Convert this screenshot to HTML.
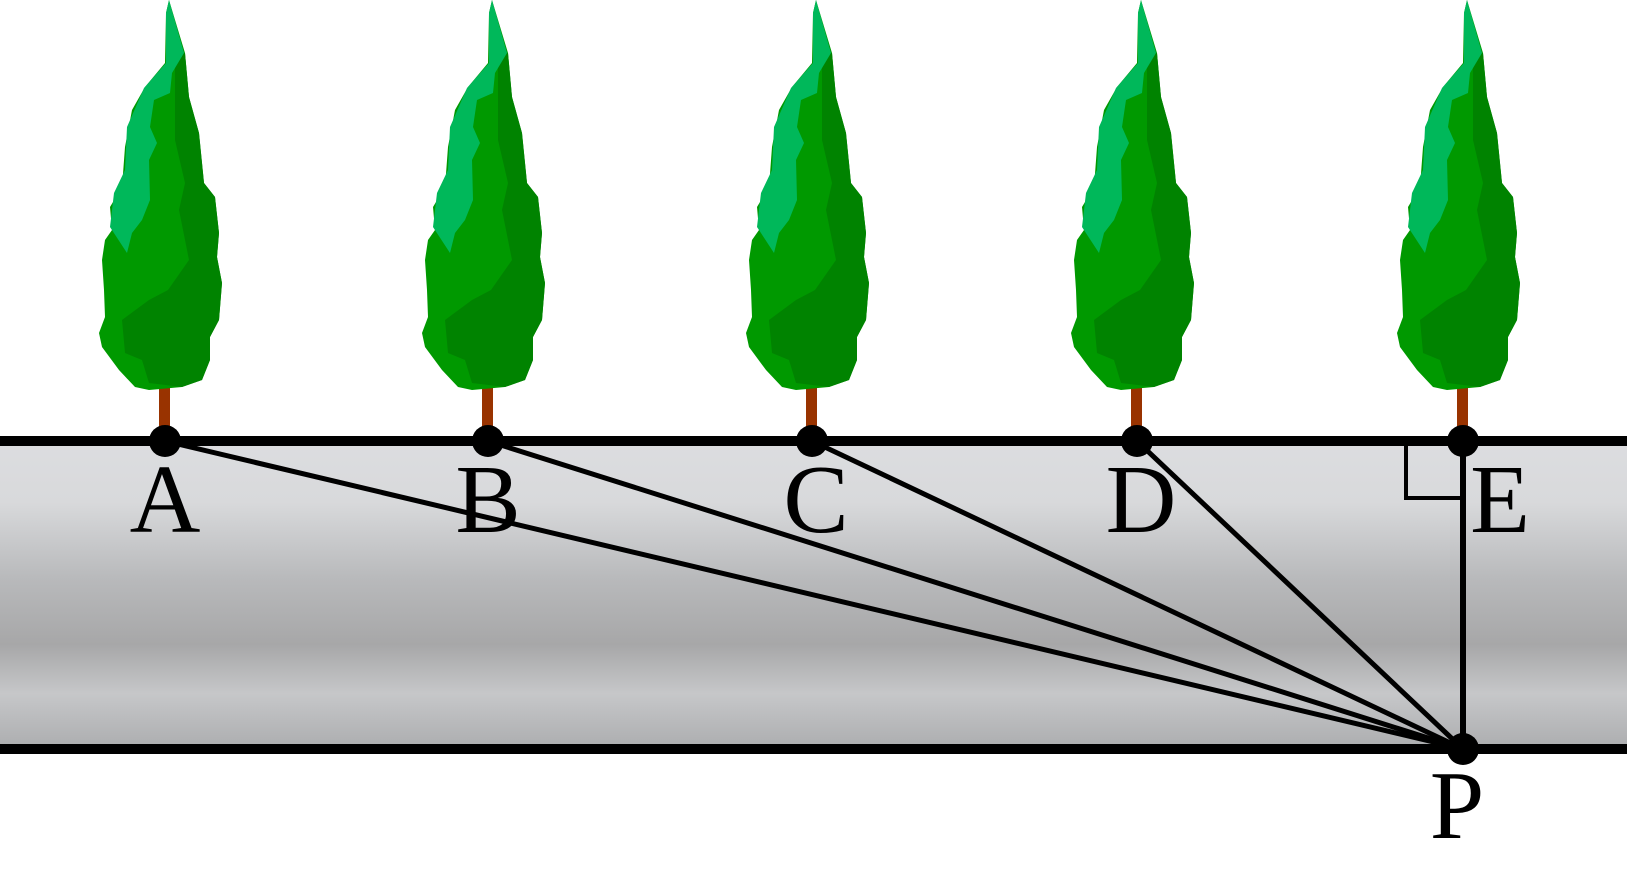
<!DOCTYPE html>
<html><head><style>html,body{margin:0;padding:0;background:#fff;}svg{display:block}</style></head>
<body>
<svg width="1627" height="869" viewBox="0 0 1627 869" xmlns="http://www.w3.org/2000/svg">
<defs>
<linearGradient id="road" x1="0" y1="441" x2="0" y2="749" gradientUnits="userSpaceOnUse">
<stop offset="0" stop-color="#dcdde0"/>
<stop offset="0.2" stop-color="#d8d9db"/>
<stop offset="0.45" stop-color="#b8b9bb"/>
<stop offset="0.66" stop-color="#a7a7a8"/>
<stop offset="0.82" stop-color="#c6c7c9"/>
<stop offset="1" stop-color="#acadaf"/>
</linearGradient>
<g id="tree">
<rect x="-6" y="370" width="11" height="70" fill="#993300"/>
<path fill="#009900" d="M4,0 L20,53 L24,97 L34,133 L39,183 L50,197 L54,233 L52,257 L57,283 L54,320 L45,337 L45,360 L37,380 L17,387 L-16,390 L-30,387 L-46,370 L-63,347 L-66,333 L-60,317 L-61,290 L-63,260 L-60,240 L-53,230 L-55,207 L-43,187 L-40,147 L-33,110 L-20,87 L0,63 L1,13 Z"/>
<path fill="#008300" d="M10,53 L20,53 L24,97 L34,133 L39,183 L50,197 L54,233 L52,257 L57,283 L54,320 L45,337 L45,360 L37,380 L17,387 L-16,383 L-23,360 L-40,353 L-43,320 L-16,300 L3,290 L24,260 L14,210 L20,183 L10,140 L10,93 Z"/>
<path fill="#00b85a" d="M4,0 L19,53 L7,73 L5,93 L-11,100 L-15,127 L-8,143 L-16,160 L-15,200 L-23,220 L-33,233 L-38,253 L-55,227 L-51,193 L-40,170 L-38,127 L-21,88 L1,63 L1,13 Z"/>
</g>
</defs>
<rect x="0" y="441" width="1627" height="308" fill="url(#road)"/>
<use href="#tree" x="165" y="0"/>
<use href="#tree" x="488" y="0"/>
<use href="#tree" x="812" y="0"/>
<use href="#tree" x="1137" y="0"/>
<use href="#tree" x="1463" y="0"/>
<line x1="0" y1="441" x2="1627" y2="441" stroke="#000" stroke-width="10"/>
<line x1="0" y1="749" x2="1627" y2="749" stroke="#000" stroke-width="10"/>
<g stroke="#000" stroke-width="5" fill="none">
<line x1="165" y1="441" x2="1463" y2="749"/>
<line x1="488" y1="441" x2="1463" y2="749"/>
<line x1="812" y1="441" x2="1463" y2="749"/>
<line x1="1137" y1="441" x2="1463" y2="749"/>
<line x1="1463" y1="441" x2="1463" y2="749" stroke-width="6"/>
<polyline points="1406,441 1406,498 1463,498" stroke-width="4"/>
</g>
<g fill="#000">
<circle cx="165" cy="441" r="16"/>
<circle cx="488" cy="441" r="16"/>
<circle cx="812" cy="441" r="16"/>
<circle cx="1137" cy="441" r="16"/>
<circle cx="1463" cy="441" r="16"/>
<circle cx="1463" cy="749" r="16"/>
</g>
<g font-family="Liberation Serif, serif" font-size="98" fill="#000" text-anchor="middle">
<text x="165" y="532">A</text>
<text x="488" y="532">B</text>
<text x="816" y="532">C</text>
<text x="1141" y="532">D</text>
<text x="1500" y="532">E</text>
<text x="1457" y="838">P</text>
</g>
</svg>
</body></html>
